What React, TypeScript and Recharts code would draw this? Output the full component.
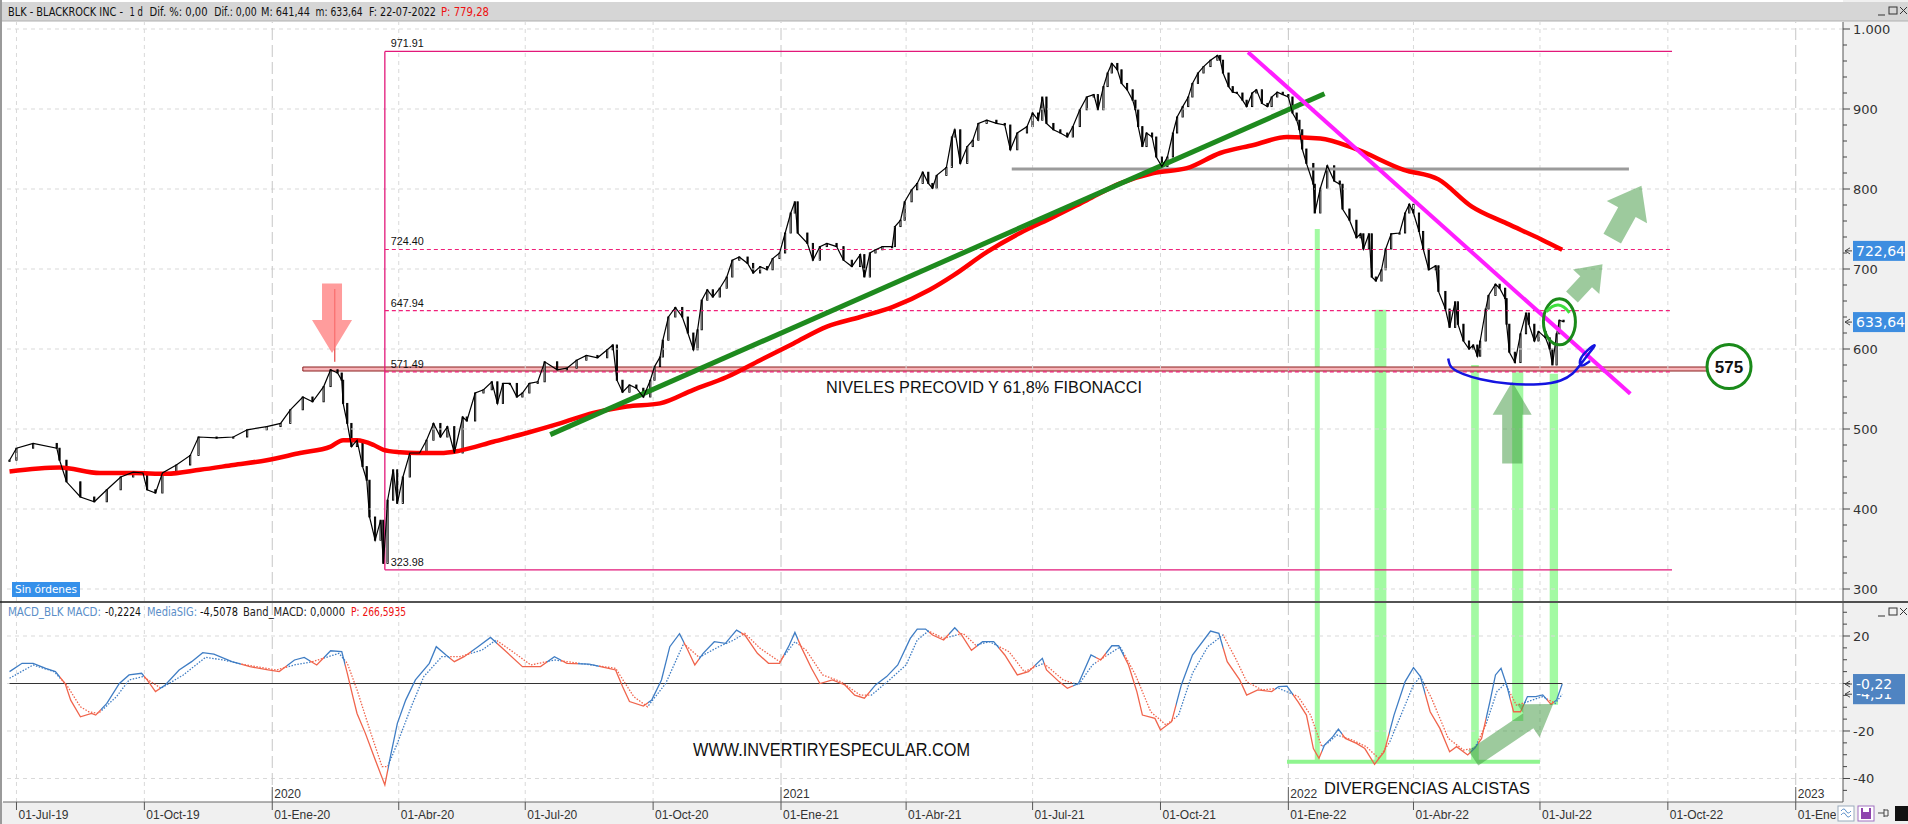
import React from "react";
import {
  ComposedChart,
  Line,
  Bar,
  XAxis,
  YAxis,
  ReferenceLine,
  ReferenceArea,
  ReferenceDot,
} from "recharts";

// x values are calendar days counted from 01-Jul-19
const X_DOMAIN: [number, number] = [-9.7, 1314];
const PRICE_DOMAIN: [number, number] = [285, 1008.75];
const MACD_DOMAIN: [number, number] = [-49.9, 33.9];

const QUARTER_DAYS = [0, 92, 184, 275, 366, 458, 550, 640, 731, 823, 915, 1005, 1096, 1188, 1280];
const QUARTER_LABELS = [
  "01-Jul-19", "01-Oct-19", "01-Ene-20", "01-Abr-20", "01-Jul-20", "01-Oct-20", "01-Ene-21",
  "01-Abr-21", "01-Jul-21", "01-Oct-21", "01-Ene-22", "01-Abr-22", "01-Jul-22", "01-Oct-22", "01-Ene-23",
];
const YEAR_DAYS = [184, 550, 915, 1280];
const YEAR_LABELS = ["2020", "2021", "2022", "2023"];

const PRICE_TICKS = [300, 320, 340, 360, 380, 400, 420, 440, 460, 480, 500, 520, 540, 560, 580, 600, 620, 640, 660, 680, 700, 720, 740, 760, 780, 800, 820, 840, 860, 880, 900, 920, 940, 960, 980, 1000];
const PRICE_GRID = [300, 400, 500, 600, 700, 800, 900, 1000];
const MACD_TICKS = [-45, -40, -35, -30, -25, -20, -15, -10, -5, 0, 5, 10, 15, 20, 25, 30];
const MACD_GRID = [20, -20, -40];

// BLK daily closes (sampled)
const PRICE_DAY = [
  -5, 0, 12, 29, 31, 36, 46, 56, 65, 75, 84, 91, 94, 100, 105, 115, 125, 131, 144, 156, 166, 180, 190, 197, 206, 213, 221, 226, 231, 234, 235, 238, 241, 245, 249, 252, 254, 258, 262, 264, 267, 271, 274, 278, 283, 290, 295, 300, 305, 310, 315, 321, 324,
  330, 336, 342, 346, 350, 355, 360, 364, 369, 375, 380, 389, 396, 403, 410, 418, 425, 429, 432, 436, 441, 446, 451, 456, 459, 463, 465, 469, 474, 479, 483, 487, 490, 493, 497, 501, 506, 511, 515, 520, 526, 530, 535, 540, 544, 549, 553, 557, 560, 562, 569, 573, 578, 583, 590, 595, 601, 607, 610, 614, 618, 623, 630, 632, 636, 639, 644, 648, 652, 656,
  659, 662, 669, 673, 675, 679, 684, 688, 692, 698, 705, 711, 715, 720, 727, 731, 735, 738, 741, 746, 751, 756, 760, 765, 770, 775, 778, 782, 785, 788, 792, 795, 799, 803, 805, 807, 810, 813, 817, 820, 824, 828, 832, 835, 839, 843, 846, 850, 854, 859, 864, 866, 868, 872, 875, 878, 882, 885, 889, 892, 896, 900, 903, 907, 911, 915, 918, 921, 923,
  925, 928, 933, 934, 938, 943, 948, 952, 954, 959, 964, 967, 969, 973, 975, 978, 982, 985, 989, 995, 999, 1002, 1005, 1009, 1012, 1016, 1021, 1023, 1028, 1031, 1035, 1037, 1041, 1045, 1048, 1051, 1053, 1057, 1059, 1064, 1067, 1071, 1072, 1074, 1078, 1082, 1086, 1088, 1092, 1095, 1100, 1103, 1105, 1108, 1110, 1113,
];
const PRICE_CLOSE = [
  461, 476, 482, 476, 461, 434, 415, 409, 424, 440, 446, 445, 424, 420, 445, 455, 467, 490, 489, 490, 499, 503, 507, 524, 540, 534, 553, 574, 570, 561, 532, 507, 478, 486, 453, 436, 390, 361, 386, 332, 411, 449, 407, 440, 470, 470, 486, 507, 490, 503, 470, 515, 510,
  545, 549, 559, 532, 557, 557, 540, 545, 557, 559, 584, 574, 576, 586, 592, 589, 599, 605, 561, 546, 555, 551, 540, 561, 578, 590, 611, 640, 652, 640, 620, 599, 624, 661, 674, 665, 676, 690, 711, 715, 707, 695, 703, 699, 713, 720, 745, 770, 784, 745, 732, 711, 728, 732, 728, 711, 703, 718, 690, 720, 724, 728, 728, 753, 761, 784, 799, 807, 821, 807,
  801, 817, 827, 865, 874, 832, 853, 861, 882, 886, 882, 880, 849, 870, 878, 895, 886, 915, 882, 874, 870, 865, 878, 899, 915, 918, 899, 928, 945, 957, 949, 932, 924, 911, 899, 878, 853, 870, 865, 840, 828, 840, 870, 890, 903, 915, 932, 945, 953, 961, 967, 961, 945, 928, 921, 920, 911, 903, 920, 924, 907, 903, 915, 921, 918, 915, 895, 886, 874,
  850, 832, 806, 770, 801, 829, 810, 806, 775, 761, 739, 744, 725, 744, 690, 685, 699, 725, 744, 745, 770, 781, 770, 747, 725, 699, 704, 672, 650, 627, 659, 631, 610, 600, 605, 591, 610, 650, 667, 681, 676, 663, 631, 596, 583, 619, 645, 631, 610, 622, 614, 600, 580, 619, 636, 634,
];

// 200 session moving average (red)
const SMA_DAY = [-5, 31, 60, 84, 108, 132, 156, 180, 204, 226, 235, 245, 257, 264, 276, 288, 305, 319, 343, 367, 391, 415, 439, 463, 487, 511, 535, 559, 583, 607, 631, 657, 674, 698, 722, 746, 770, 794, 818, 842, 866, 890, 914, 938, 962, 998, 1023, 1047, 1072, 1097, 1112];
const SMA_VALUE = [447, 452, 445, 445, 444, 449, 455, 461, 470, 478, 486, 486, 480, 474, 471, 470, 470, 473, 484, 495, 507, 520, 528, 532, 549, 565, 586, 607, 628, 640, 653, 674, 692, 721, 745, 765, 786, 807, 820, 826, 845, 855, 865, 863, 851, 824, 812, 778, 757, 737, 724];

const MACD_DAY = [
  -5, 4, 12, 21, 28, 35, 39, 46, 54, 57, 65, 74, 81, 90, 94, 100, 107, 117, 126, 134, 142, 155, 168, 181, 189, 200, 207, 216, 226, 234,
  238, 242, 245, 251, 258, 265, 269, 274, 280, 287, 297, 302, 309, 315, 322, 332, 341, 351, 364, 377, 387, 396, 412, 426, 431, 436, 441, 451, 457, 464,
  470, 477, 483, 488, 494, 502, 510, 518, 524, 533, 541, 549, 556, 560, 565, 572, 578, 587, 596, 603, 610, 618, 626, 634, 643, 648, 654, 659, 667, 675,
  680, 687, 695, 703, 711, 720, 728, 738, 741, 750, 756, 764, 773, 780, 788, 793, 800, 806, 810, 819, 823, 831, 838, 846, 859, 865, 871, 880, 885, 893,
  903, 908, 914, 922, 928, 933, 937, 941, 947, 951, 956, 964, 970, 977, 984, 991, 999, 1005, 1010, 1017, 1024, 1031, 1036, 1044, 1049, 1054, 1060, 1064, 1068, 1072,
  1077, 1082, 1087, 1093, 1098, 1104, 1108, 1112,
];
const MACD_VALUE = [
  5, 8.5, 8.5, 6.4, 5, 0, -7, -14, -12.6, -13.3, -8.4, 0, 3.6, 4.3, 1.5, -3.4, -0.6, 5.7, 9.2, 13, 12.4, 9.2, 7.1, 5.7, 5, 9.9, 11, 7.8, 13.8, 13.4,
  4.3, -5.5, -12.6, -21, -32, -42.7, -30.8, -16.8, -7, 1.5, 8.5, 15.5, 12, 9.2, 11.3, 15.5, 19.4, 14.1, 7.1, 7.1, 11.3, 8.5, 8.2, 6.4, 5.7, -1.3, -7.6, -9.5, -7, 1.5,
  15.5, 21, 14, 7.8, 12.7, 17.6, 16.9, 22.5, 20.4, 12.7, 8.5, 8.5, 16.2, 21.5, 14.8, 6.3, 0, 1.5, -0.6, -4.9, -6.2, -0.6, 2.9, 7.8, 19, 22.9, 22.9, 20.4, 18.3, 23.5,
  20.4, 14, 17.6, 17.6, 12, 3.6, 5, 10.6, 5.7, 0.8, -2, 0, 12, 9.9, 15.9, 15.9, 7.8, -3.4, -13.3, -14.7, -19.6, -16.1, -0.6, 12, 22.1, 21.1, 9.2, 1.5, -4.9, -2.7,
  -3.4, -1.3, -1.1, -7.7, -13.3, -27.4, -31.5, -25.9, -22.4, -19.2, -23.1, -25.2, -27.4, -34, -28.7, -13.3, 0.8, 6.7, 2.9, -11.9, -18.9, -28.7, -26.6, -30.1, -27.3, -23.1, -7.6, 3.6, 6.4, -0.6,
  -11.9, -11.9, -5.5, -5.5, -4.8, -8.8, -6.9, -0.22,
];

const SIG_DAY = [
  -5, 12, 27, 36, 46, 52, 59, 72, 81, 91, 104, 120, 136, 149, 165, 187, 200, 213, 232, 238, 245, 255, 263, 267, 274, 284, 293, 306, 319, 335,
  345, 357, 370, 387, 405, 431, 444, 454, 467, 480, 491, 505, 516, 524, 535, 549, 560, 568, 580, 593, 607, 615, 628, 640, 648, 656, 667, 681, 690, 700,
  714, 725, 739, 753, 764, 774, 783, 794, 805, 816, 827, 836, 846, 857, 868, 877, 885, 896, 908, 922, 931, 939, 943, 950, 961, 971, 980, 988, 997, 1005,
  1010, 1018, 1030, 1041, 1049, 1057, 1065, 1071, 1079, 1087, 1098, 1107, 1112,
];
const SIG_VALUE = [
  2.2, 7.8, 5, -0.6, -9.8, -11.9, -12.6, -5.5, 1.5, 2.9, -2, 3.6, 11, 9.9, 7.8, 5.7, 7.8, 9.2, 12.7, 8.5, -2.7, -21, -35, -35, -25.2, -9.8, 2.9, 11.3, 11.3, 14.1,
  18.3, 13.4, 7.8, 9.9, 8.5, 6.4, -5.5, -9.8, 0, 16.9, 11, 15.4, 18.3, 21.1, 14.8, 9.2, 17.6, 14.1, 3.6, 0.8, -4.9, -4.9, 1.5, 7.8, 18.3, 22.1, 19, 21.1, 16.2, 17.6,
  13.4, 5, 8.5, 1.5, -0.6, 7.8, 11.3, 15.4, 3.6, -11.9, -17.5, -13.3, 4.3, 15.5, 20.4, 10.6, 0.8, -2.7, -2, -5.5, -13.3, -26.6, -25.2, -21.7, -23.8, -26.6, -31.5, -24.5, -11.9, -0.6,
  2.9, -6.2, -23.1, -28, -27.3, -17.5, -3.4, 0, -9.1, -7.7, -5.5, -8.4, -4.51,
];

// Fibonacci retracement
const FIB_FROM = 265;
const FIB_TO = 1191;
const FIB_LEVELS = [971.91, 724.4, 647.94, 571.49, 323.98];
const FIB_LABELS = ["971.91", "724.40", "647.94", "571.49", "323.98"];

// hand drawn blue curve
const CURVE_DAY = [1030, 1031, 1034, 1040, 1052, 1072, 1097, 1112, 1120, 1125, 1130, 1138, 1130, 1124, 1125, 1132];
const CURVE_VALUE = [588, 579, 574, 569, 562, 556, 555, 560, 569, 580, 592, 609, 599, 587, 576, 585];

// green divergence columns
const DIV_FROM = [934, 977, 1046.5, 1076, 1103];
const DIV_TO = [937.6, 985.5, 1052, 1084, 1109];
const DIV_PRICE_TOP = [750, 649, 580, 571, 569];
const DIV_MACD_BOTTOM = [-33, -33, -33, -15.8, -9];

const toPoints = (xs: number[], ys: number[]) => xs.map((d, i) => ({ d, v: ys[i] }));
const priceData = toPoints(PRICE_DAY, PRICE_CLOSE);
// each sampled session drawn as a candle body from the previous close to its close
const candleData = PRICE_DAY.map((d, i) => {
  const o = PRICE_CLOSE[i > 0 ? i - 1 : 0];
  const c = PRICE_CLOSE[i];
  return { d, body: [Math.min(o, c), Math.max(o, c)], up: c >= o };
});
const smaData = toPoints(SMA_DAY, SMA_VALUE);
const macdData = toPoints(MACD_DAY, MACD_VALUE);
const sigData = toPoints(SIG_DAY, SIG_VALUE);
const curveData = toPoints(CURVE_DAY, CURVE_VALUE);

const BLUE = "#3f7dc4";
const RED = "#f0644c";
const DIV_GREEN = "#99fa99";
const ARROW_GREEN = "#3c963c";
const GRID = "#d9d9d9";

function interp(xs: number[], ys: number[], x: number) {
  if (x <= xs[0]) return ys[0];
  for (let i = 1; i < xs.length; i++) {
    if (x <= xs[i]) {
      const t = (x - xs[i - 1]) / (xs[i] - xs[i - 1]);
      return ys[i - 1] + t * (ys[i] - ys[i - 1]);
    }
  }
  return ys[ys.length - 1];
}

// colour of both MACD lines: blue while MACD is above its signal, red below
const macdStops = (() => {
  const up = MACD_DAY.map((d, i) => MACD_VALUE[i] >= interp(SIG_DAY, SIG_VALUE, d));
  const d0 = MACD_DAY[0];
  const span = MACD_DAY[MACD_DAY.length - 1] - d0;
  const col = (u: boolean) => (u ? BLUE : RED);
  const stops: { o: number; c: string }[] = [{ o: 0, c: col(up[0]) }];
  let prev = up[0];
  for (let i = 1; i < up.length; i++) {
    if (up[i] !== prev) {
      const o = ((MACD_DAY[i - 1] + MACD_DAY[i]) / 2 - d0) / span;
      stops.push({ o, c: col(prev) }, { o, c: col(up[i]) });
      prev = up[i];
    }
  }
  stops.push({ o: 1, c: col(prev) });
  return stops;
})();

function arrowShape(shaftW: number, headW: number, headL: number, fill: string, opacity: number) {
  return (p: any) => {
    const { x1, y1, x2, y2 } = p;
    const dx = x2 - x1;
    const dy = y2 - y1;
    const len = Math.hypot(dx, dy) || 1;
    const ux = dx / len;
    const uy = dy / len;
    const nx = -uy;
    const ny = ux;
    const bx = x2 - ux * headL;
    const by = y2 - uy * headL;
    const pts = [
      [x1 + (nx * shaftW) / 2, y1 + (ny * shaftW) / 2],
      [bx + (nx * shaftW) / 2, by + (ny * shaftW) / 2],
      [bx + (nx * headW) / 2, by + (ny * headW) / 2],
      [x2, y2],
      [bx - (nx * headW) / 2, by - (ny * headW) / 2],
      [bx - (nx * shaftW) / 2, by - (ny * shaftW) / 2],
      [x1 - (nx * shaftW) / 2, y1 - (ny * shaftW) / 2],
    ];
    return <polygon points={pts.map((q) => q.join(",")).join(" ")} fill={fill} fillOpacity={opacity} />;
  };
}

function textShape(text: string, size: number, width: number, dx = 0, dy = 0, weight = "normal") {
  return (p: any) => (
    <text
      x={p.cx + dx}
      y={p.cy + dy}
      fontSize={size}
      fontWeight={weight}
      fill="#111"
      fontFamily="'Liberation Sans', Arial, sans-serif"
      textLength={width}
      lengthAdjust="spacingAndGlyphs"
    >
      {text}
    </text>
  );
}

function valueBox(label: string, bg: string) {
  return (p: any) => (
    <g>
      <path d={`M${p.cx + 2},${p.cy} l5,-3 M${p.cx + 2},${p.cy} l5,3 M${p.cx + 2},${p.cy} h7`} stroke="#444" strokeWidth={1} fill="none" />
      <rect x={p.cx + 10} y={p.cy - 10} width={52} height={20} fill={bg} />
      <text x={p.cx + 13} y={p.cy + 5} fontSize={14} fill="#fff" fontFamily="'DejaVu Sans', sans-serif">
        {label}
      </text>
    </g>
  );
}

const CandleBody = (p: any) => {
  const h = Math.max(p.height, 1.2);
  return (
    <rect
      x={p.x}
      y={p.y}
      width={p.width}
      height={h}
      fill={p.payload && p.payload.up ? "#fff" : "#000"}
      stroke="#000"
      strokeWidth={0.9}
    />
  );
};

const PriceTick = (props: any) => {
  const { x, y, payload } = props;
  const v = payload.value;
  const major = v % 100 === 0;
  return (
    <g>
      <line x1={x} x2={x + (major ? 7 : 4)} y1={y} y2={y} stroke="#444" />
      {major && (
        <text x={x + 10} y={y + 5} fontSize={13} fill="#333" fontFamily="'DejaVu Sans', sans-serif">
          {v === 1000 ? "1.000" : v}
        </text>
      )}
    </g>
  );
};

const MacdTick = (props: any) => {
  const { x, y, payload } = props;
  const v = payload.value;
  const major = v % 20 === 0;
  return (
    <g>
      <line x1={x} x2={x + (major ? 7 : 4)} y1={y} y2={y} stroke="#444" />
      {major && v !== 0 && (
        <text x={x + 10} y={y + 5} fontSize={13} fill="#333" fontFamily="'DejaVu Sans', sans-serif">
          {v}
        </text>
      )}
    </g>
  );
};

const DateTick = (props: any) => {
  const { x, y, payload } = props;
  const i = QUARTER_DAYS.indexOf(payload.value);
  return (
    <g>
      <line x1={x} x2={x} y1={y} y2={y + 8} stroke="#555" />
      <text x={x + 2} y={y + 17} fontSize={12} fill="#333" fontFamily="'Liberation Sans', Arial, sans-serif">
        {QUARTER_LABELS[i]}
      </text>
    </g>
  );
};

const yearTick = (label: string) => (p: any) => (
  <g>
    <line x1={p.cx} x2={p.cx} y1={p.cy - 15} y2={p.cy} stroke="#666" />
    <text x={p.cx + 2} y={p.cy - 4} fontSize={12} fill="#333" fontFamily="'Liberation Sans', Arial, sans-serif">
      {label}
    </text>
  </g>
);

function MainChart() {
  return (
    <ComposedChart width={1908} height={579} data={candleData} margin={{ top: 0, right: 0, bottom: 0, left: 3 }}>
      <XAxis type="number" dataKey="d" domain={X_DOMAIN} allowDataOverflow hide />
      <YAxis
        orientation="right"
        type="number"
        domain={PRICE_DOMAIN}
        allowDataOverflow
        ticks={PRICE_TICKS}
        interval={0}
        tick={PriceTick}
        tickLine={false}
        tickSize={0}
        tickMargin={0}
        axisLine={{ stroke: "#555" }}
        width={65}
      />
      {PRICE_GRID.map((v) => (
        <ReferenceLine key={`h${v}`} y={v} stroke={GRID} strokeDasharray="4 4" />
      ))}
      {QUARTER_DAYS.map((d) => (
        <ReferenceLine
          key={`q${d}`}
          x={d}
          stroke={YEAR_DAYS.includes(d) ? "#c6c6c6" : GRID}
          strokeDasharray={YEAR_DAYS.includes(d) ? "12 5" : "4 4"}
        />
      ))}

      {DIV_FROM.map((d, i) => (
        <ReferenceArea key={`dv${i}`} x1={d} x2={DIV_TO[i]} y1={PRICE_DOMAIN[0]} y2={DIV_PRICE_TOP[i]} fill={DIV_GREEN} fillOpacity={0.9} stroke="none" />
      ))}

      <ReferenceArea x1={206} x2={1219} y1={572.5} y2={577.5} fill="#f7b5b9" fillOpacity={1} stroke="#8a1f1f" strokeWidth={1} />

      <ReferenceLine segment={[{ x: FIB_FROM, y: FIB_LEVELS[0] }, { x: FIB_FROM, y: FIB_LEVELS[4] }]} stroke="#e2187a" strokeWidth={1.3} />
      {FIB_LEVELS.map((lv, i) => (
        <ReferenceLine
          key={`f${i}`}
          segment={[{ x: FIB_FROM, y: lv }, { x: FIB_TO, y: lv }]}
          stroke={i === 0 || i === 4 ? "#e2187a" : "#f0207a"}
          strokeWidth={i === 0 || i === 4 ? 1.3 : 1.2}
          strokeDasharray={i === 0 || i === 4 ? undefined : "4 3"}
        />
      ))}
      {FIB_LEVELS.map((lv, i) => (
        <ReferenceDot key={`fl${i}`} x={FIB_FROM} y={lv} r={0} shape={textShape(FIB_LABELS[i], 11.5, 33, 6, -4)} />
      ))}

      <ReferenceLine segment={[{ x: 716, y: 825 }, { x: 1160, y: 825 }]} stroke="#9b9b9b" strokeWidth={3} />
      <ReferenceLine segment={[{ x: 229, y: 675 }, { x: 229, y: 584 }]} stroke="#e02020" strokeWidth={1} />
      <ReferenceLine segment={[{ x: 227, y: 682 }, { x: 227, y: 595 }]} shape={arrowShape(20, 40, 33, "#ff7b7b", 0.75)} />

      <Line data={smaData} dataKey="v" type="monotone" stroke="#ff0000" strokeWidth={4.5} dot={false} activeDot={false} isAnimationActive={false} />

      <ReferenceLine segment={[{ x: 384, y: 493 }, { x: 941, y: 919 }]} stroke="#1e8a1e" strokeWidth={5} />

      <Line data={priceData} dataKey="v" type="linear" stroke="#000" strokeWidth={1.2} dot={false} activeDot={false} isAnimationActive={false} />
      <Bar dataKey="body" barSize={3} shape={CandleBody} isAnimationActive={false} />

      <ReferenceLine segment={[{ x: 886, y: 971 }, { x: 1161, y: 544 }]} stroke="#ff1eff" strokeWidth={4} />

      <ReferenceLine segment={[{ x: 1148, y: 738 }, { x: 1169, y: 804 }]} shape={arrowShape(20, 46, 30, ARROW_GREEN, 0.5)} />
      <ReferenceLine segment={[{ x: 1119, y: 665 }, { x: 1141, y: 706 }]} shape={arrowShape(16, 36, 24, ARROW_GREEN, 0.5)} />
      <ReferenceLine segment={[{ x: 1076, y: 457 }, { x: 1076, y: 559 }]} shape={arrowShape(20, 39, 33, ARROW_GREEN, 0.5)} />

      <Line data={curveData} dataKey="v" type="basis" stroke="#1414e0" strokeWidth={2.5} dot={false} activeDot={false} isAnimationActive={false} />

      <ReferenceDot
        x={1110}
        y={634}
        r={0}
        shape={(p: any) => (
          <g>
            <ellipse cx={p.cx} cy={p.cy} rx={16} ry={23} fill="none" stroke="#1a8a1a" strokeWidth={3} />
            <path d={`M${p.cx - 13},${p.cy - 10} Q${p.cx - 1},${p.cy - 24} ${p.cx + 10},${p.cy - 9}`} fill="none" stroke="#3ee03e" strokeWidth={3} />
          </g>
        )}
      />
      <ReferenceDot
        x={1232}
        y={578}
        r={0}
        shape={(p: any) => (
          <g>
            <circle cx={p.cx} cy={p.cy} r={22} fill="#fff" stroke="#1a8a1a" strokeWidth={3} />
            <text x={p.cx} y={p.cy + 6} textAnchor="middle" fontSize={17} fontWeight="bold" fill="#111" fontFamily="'Liberation Sans', Arial, sans-serif">
              575
            </text>
          </g>
        )}
      />
      <ReferenceDot x={582.4} y={552.5} r={0} shape={textShape("NIVELES PRECOVID Y 61,8% FIBONACCI", 16.5, 316, 0, 6)} />

      <ReferenceDot x={X_DOMAIN[1]} y={722.64} r={0} shape={valueBox("722,64", "#3d8de0")} />
      <ReferenceDot x={X_DOMAIN[1]} y={633.64} r={0} shape={valueBox("633,64", "#3d8de0")} />
    </ComposedChart>
  );
}

function MacdChart() {
  return (
    <ComposedChart width={1908} height={221} margin={{ top: 0, right: 0, bottom: 0, left: 3 }}>
      <defs>
        <linearGradient id="macdGrad" x1="0" y1="0" x2="1" y2="0">
          {macdStops.map((s, i) => (
            <stop key={i} offset={s.o} stopColor={s.c} />
          ))}
        </linearGradient>
      </defs>
      <XAxis
        type="number"
        dataKey="d"
        domain={X_DOMAIN}
        allowDataOverflow
        ticks={QUARTER_DAYS}
        interval={0}
        height={22}
        tickSize={0}
        tickMargin={0}
        tick={DateTick}
        tickLine={false}
        axisLine={{ stroke: "#666" }}
      />
      <YAxis
        orientation="right"
        type="number"
        domain={MACD_DOMAIN}
        allowDataOverflow
        ticks={MACD_TICKS}
        interval={0}
        tick={MacdTick}
        tickLine={false}
        tickSize={0}
        tickMargin={0}
        axisLine={{ stroke: "#555" }}
        width={65}
      />
      {MACD_GRID.map((v) => (
        <ReferenceLine key={`h${v}`} y={v} stroke={GRID} strokeDasharray="4 4" />
      ))}
      <ReferenceLine y={0} stroke={GRID} strokeDasharray="4 4" />
      {QUARTER_DAYS.map((d) => (
        <ReferenceLine
          key={`q${d}`}
          x={d}
          stroke={YEAR_DAYS.includes(d) ? "#c6c6c6" : GRID}
          strokeDasharray={YEAR_DAYS.includes(d) ? "12 5" : "4 4"}
        />
      ))}
      {YEAR_DAYS.map((d, i) => (
        <ReferenceDot key={`y${d}`} x={d} y={MACD_DOMAIN[0]} r={0} shape={yearTick(YEAR_LABELS[i])} />
      ))}

      {DIV_FROM.map((d, i) => (
        <ReferenceArea key={`dv${i}`} x1={d} x2={DIV_TO[i]} y1={DIV_MACD_BOTTOM[i]} y2={MACD_DOMAIN[1]} fill={DIV_GREEN} fillOpacity={0.9} stroke="none" />
      ))}
      <ReferenceLine segment={[{ x: 914, y: -33 }, { x: 1096, y: -33 }]} stroke="#8ff58f" strokeWidth={4} />

      <ReferenceLine segment={[{ x: -5, y: 0 }, { x: 1112, y: 0 }]} stroke="#333" strokeWidth={1.2} />

      <Line data={sigData} dataKey="v" type="linear" stroke="url(#macdGrad)" strokeWidth={1.3} strokeDasharray="1.5 1.5" dot={false} activeDot={false} isAnimationActive={false} />
      <Line data={macdData} dataKey="v" type="linear" stroke="url(#macdGrad)" strokeWidth={1.3} dot={false} activeDot={false} isAnimationActive={false} />

      <ReferenceLine segment={[{ x: 1048, y: -31.4 }, { x: 1105.5, y: -8.6 }]} shape={arrowShape(18, 40, 30, ARROW_GREEN, 0.5)} />

      <ReferenceDot x={486.7} y={-27.6} r={0} shape={textShape("WWW.INVERTIRYESPECULAR.COM", 18, 277, 0, 6.5)} />
      <ReferenceDot x={940.6} y={-44} r={0} shape={textShape("DIVERGENCIAS ALCISTAS", 17, 206, 0, 6)} />

      <ReferenceDot x={X_DOMAIN[1]} y={-4.51} r={0} shape={valueBox("-4,51", "#4f84c2")} />
      <ReferenceDot x={X_DOMAIN[1]} y={-0.22} r={0} shape={valueBox("-0,22", "#4f84c2")} />
    </ComposedChart>
  );
}

const HEADER = [
  { x: 8, w: 115, t: "BLK - BLACKROCK INC -", c: "#111" },
  { x: 129.5, w: 13.4, t: "1 d", c: "#111" },
  { x: 149.6, w: 58, t: "Dif. %: 0,00", c: "#111" },
  { x: 214.3, w: 42.4, t: "Dif.: 0,00", c: "#111" },
  { x: 261, w: 49, t: "M: 641,44", c: "#111" },
  { x: 315.6, w: 47, t: "m: 633,64", c: "#111" },
  { x: 369, w: 67, t: "F: 22-07-2022", c: "#111" },
  { x: 441, w: 48, t: "P: 779,28", c: "#ee1111" },
];
const MACD_HEADER = [
  { x: 8, w: 93, t: "MACD_BLK MACD:", c: "#5a8ec8" },
  { x: 105, w: 36, t: "-0,2224", c: "#111" },
  { x: 147, w: 50, t: "MediaSIG:", c: "#5a8ec8" },
  { x: 200, w: 38, t: "-4,5078", c: "#111" },
  { x: 243, w: 102, t: "Band_MACD: 0,0000", c: "#222" },
  { x: 351, w: 55, t: "P: 266,5935", c: "#ee1111" },
];

function WindowButtons({ y }: { y: number }) {
  return (
    <g stroke="#333" fill="none" strokeWidth={1}>
      <line x1={1878} x2={1885} y1={y + 4} y2={y + 4} />
      <rect x={1889} y={y - 4} width={8} height={7} />
      <path d={`M${1900},${y - 4} l7,7 M${1907},${y - 4} l-7,7`} />
    </g>
  );
}

function Overlay() {
  return (
    <svg width={1908} height={824} style={{ position: "absolute", left: 0, top: 0, pointerEvents: "none" }}>
      <rect x={0} y={2} width={1908} height={19} fill="#d6d6d6" />
      <line x1={0} x2={1908} y1={21} y2={21} stroke="#b0b0b0" />
      {HEADER.map((h) => (
        <text key={h.t} x={h.x} y={16} fontSize={12} fill={h.c} fontFamily="'DejaVu Sans', sans-serif" textLength={h.w} lengthAdjust="spacingAndGlyphs">
          {h.t}
        </text>
      ))}
      <WindowButtons y={11} />
      <rect x={0} y={0} width={2} height={824} fill="#9a9a9a" />
      <line x1={0} x2={1908} y1={602} y2={602} stroke="#1a1a1a" strokeWidth={1.5} />
      {MACD_HEADER.map((h) => (
        <text key={h.t} x={h.x} y={616} fontSize={11.5} fill={h.c} fontFamily="'DejaVu Sans', sans-serif" textLength={h.w} lengthAdjust="spacingAndGlyphs">
          {h.t}
        </text>
      ))}
      <WindowButtons y={612} />
      <rect x={12} y={582} width={68} height={15} fill="#3590ea" />
      <text x={15} y={593} fontSize={10.5} fill="#fff" fontFamily="'DejaVu Sans', sans-serif" textLength={62} lengthAdjust="spacingAndGlyphs">
        Sin órdenes
      </text>
      <g>
        <rect x={1836} y={804} width={72} height={20} fill="#f0f0f0" />
        <rect x={1838} y={806} width={16} height={15} fill="#fff" stroke="#9ab" />
        <path d="M1841,815 q3,-4 5,0 t5,0 M1841,811 q3,-4 5,0 t5,0" stroke="#5a8ec8" fill="none" />
        <rect x={1858} y={806} width={16} height={15} fill="#fff" stroke="#a070c0" />
        <rect x={1861} y={808} width={10} height={11} fill="#8e44ad" />
        <rect x={1863} y={808} width={6} height={4} fill="#fff" />
        <path d="M1878,813 h6 M1884,809 v8 M1884,810 h4 v6 h-4" stroke="#444" fill="none" />
        <rect x={1895} y={806} width={13} height={15} fill="#111" />
      </g>
    </svg>
  );
}

export default function App() {
  return (
    <div
      style={{
        position: "absolute",
        left: 0,
        top: 0,
        width: 1908,
        height: 824,
        background: "#fff",
        overflow: "hidden",
        fontFamily: "'Liberation Sans', Arial, sans-serif",
      }}
    >
      <div style={{ position: "absolute", left: 1843, top: 0, width: 65, height: 824, background: "#f0f0f0" }} />
      <div style={{ position: "absolute", left: 0, top: 802, width: 1908, height: 22, background: "#f0f0f0" }} />
      <div style={{ position: "absolute", left: 0, top: 22 }}>
        <MainChart />
      </div>
      <div style={{ position: "absolute", left: 0, top: 603 }}>
        <MacdChart />
      </div>
      <Overlay />
    </div>
  );
}
